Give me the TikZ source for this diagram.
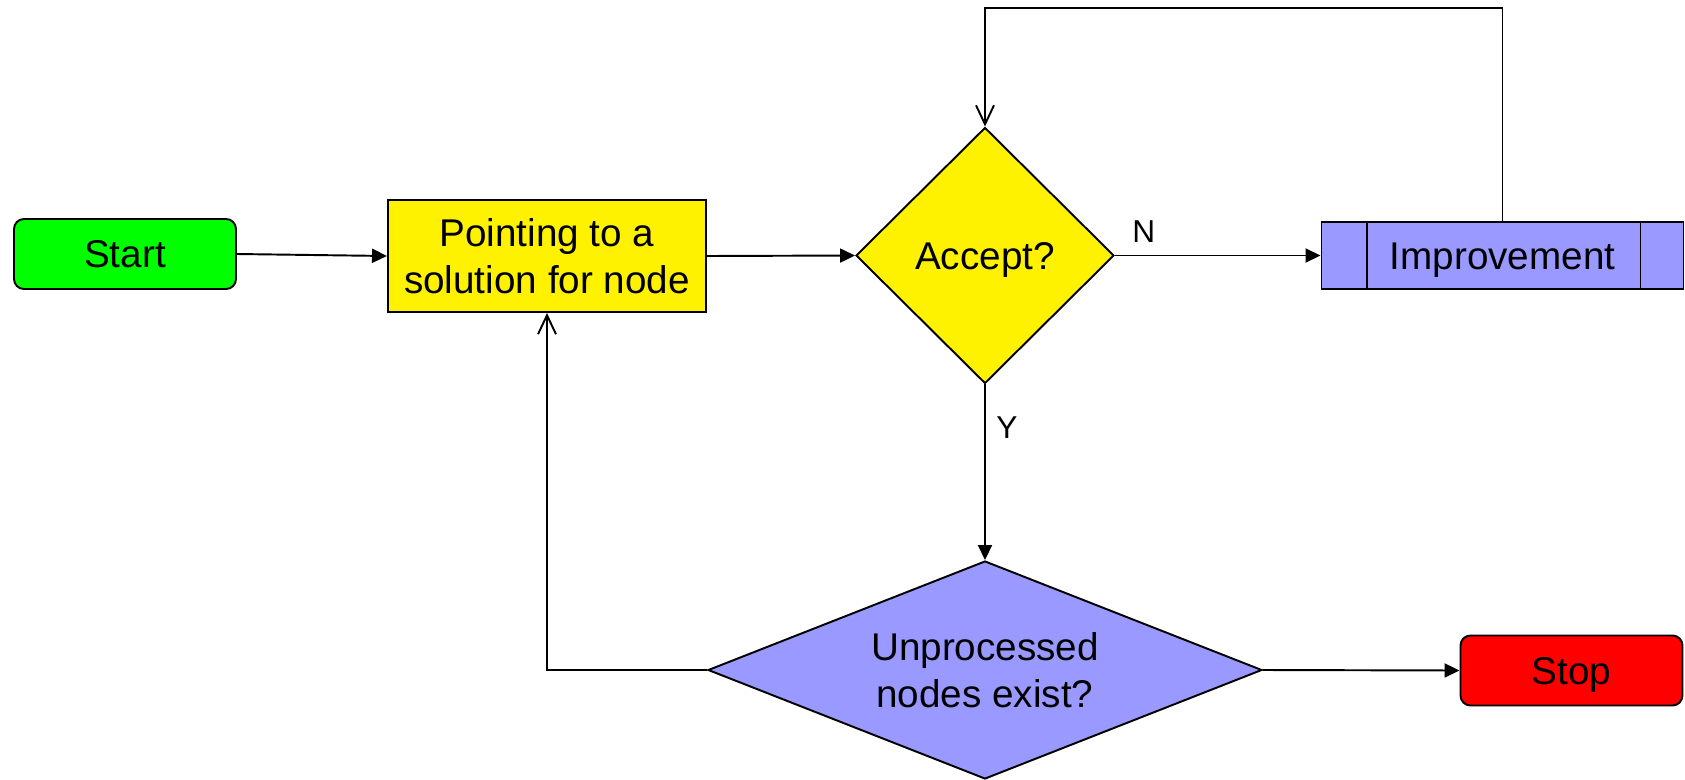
\documentclass[tikz,border=0pt]{standalone}
\usepackage{fontspec}
\setmainfont{Liberation Sans}
\usetikzlibrary{shapes.geometric,arrows.meta}
\definecolor{lilac}{HTML}{9999FF}
\begin{document}
\begin{tikzpicture}[line width=1.1pt,
    font=\fontsize{22}{27}\selectfont,
    box/.style={draw, rectangle, align=center, inner sep=0pt},
    mid/.style={text height=19.8pt, text depth=4pt},
    term/.style={box, mid, rounded corners=0.2cm, minimum width=4.44cm, minimum height=1.4cm},
    ask/.style={draw, diamond, align=center, inner sep=0pt},
    flow/.style={-{Triangle[length=0.3cm, width=0.28cm]}},
    back/.style={-{Straight Barb[length=0.38cm, width=0.36cm]}},
    lbl/.style={font=\fontsize{18}{22}\selectfont}]
    \useasboundingbox (0,0) rectangle (33.7,-15.58);

    \node[term, fill=green] (start) at (2.5,-5.08) {Start};
    \node[box, fill=yellow, minimum width=6.36cm, minimum height=2.24cm] (point) at (10.94,-5.12) {Pointing to a\\solution for node};
    \node[ask, mid, fill=yellow, minimum width=5.16cm, minimum height=5.12cm] (accept) at (19.7,-5.11) {Accept?};
    \node[box, mid, fill=lilac, minimum width=7.24cm, minimum height=1.34cm] (impr) at (30.05,-5.11) {Improvement};
    \node[ask, aspect=2.5, fill=lilac, minimum width=11.08cm, minimum height=4.36cm] (unproc) at (19.7,-13.4) {Unprocessed\\nodes exist?};
    \node[term, fill=red] (stop) at (31.43,-13.41) {Stop};

    \draw ([xshift=0.92cm]impr.north west) -- ([xshift=0.92cm]impr.south west);
    \draw ([xshift=-0.88cm]impr.north east) -- ([xshift=-0.88cm]impr.south east);

    \draw[flow] (start.east) -- (point.west);
    \draw[flow] (point.east) -- (accept.west);
    \draw[flow] (accept.east) -- (impr.west) node[lbl, pos=0.14, above, yshift=0.13cm] {N};
    \draw[flow] (accept.south) -- (unproc.north) node[lbl, pos=0.245, right, xshift=0.09cm] {Y};
    \draw[flow] (unproc.east) -- (stop.west);
    \draw[back] (impr.north) -- ++(0,4.26) -| (accept.north);
    \draw[back] (unproc.west) -| (point.south);
\end{tikzpicture}
\end{document}
